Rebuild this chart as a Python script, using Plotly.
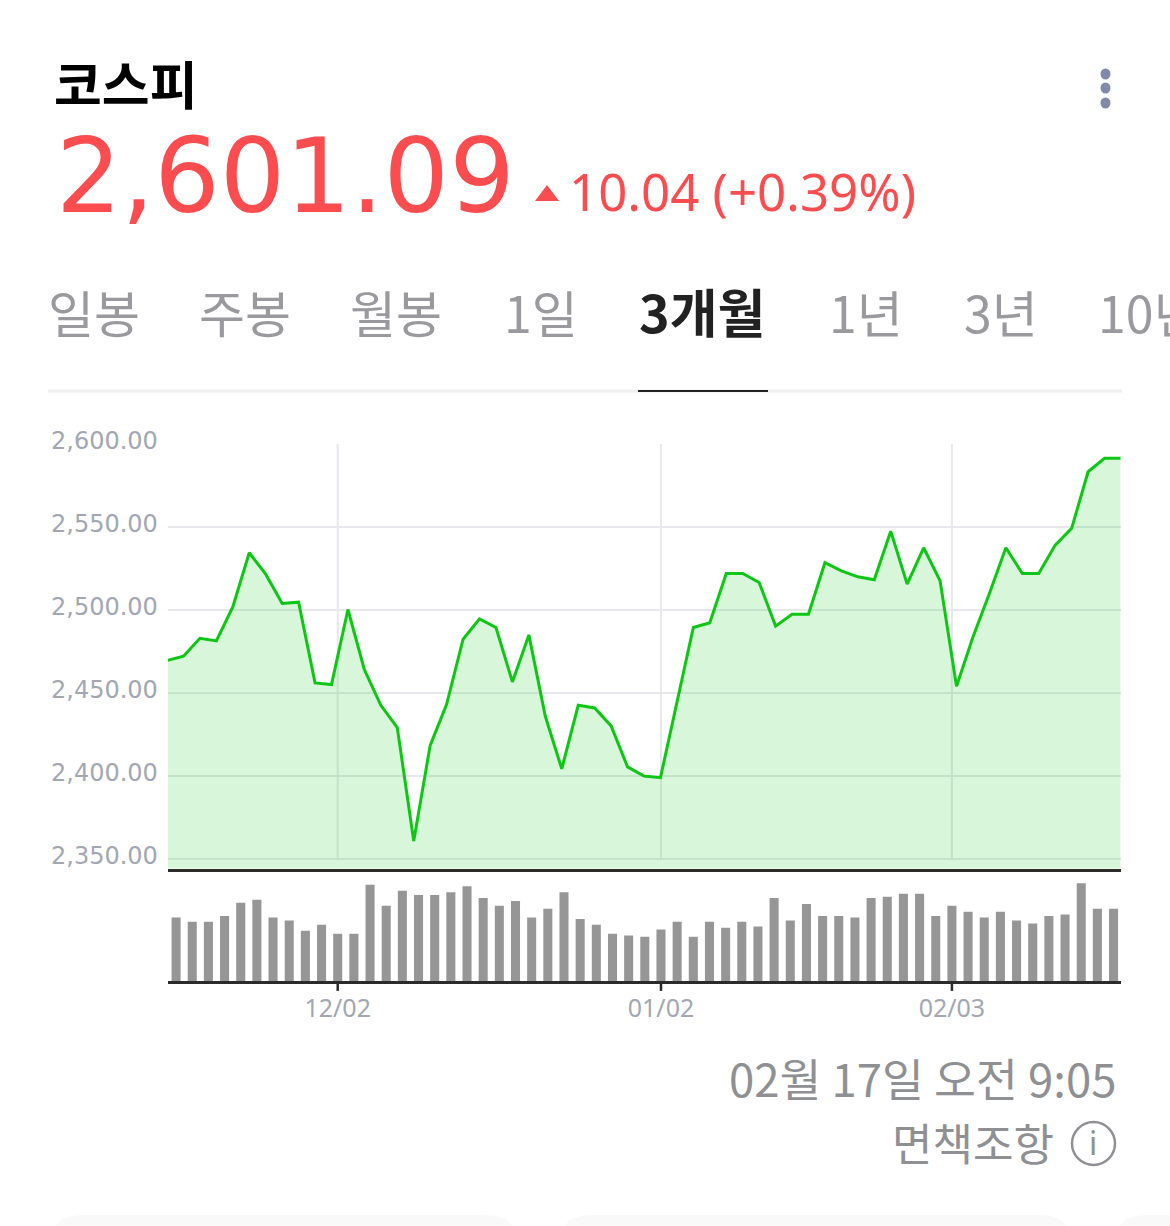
import plotly.graph_objects as go

WIDTH = 1170
HEIGHT = 1226

# index values, one per trading day
closes = [
    2469.6, 2472.2, 2483.0, 2481.4, 2501.9, 2534.5, 2521.6, 2503.9, 2504.7, 2456.1,
    2455.1, 2500.3, 2464.1, 2442.6, 2429.2, 2360.9, 2418.5, 2443.2, 2482.4, 2494.7,
    2489.5, 2456.7, 2485.0, 2436.0, 2404.3, 2442.6, 2441.0, 2430.2, 2405.5, 2400.0,
    2399.0, 2444.7, 2489.5, 2492.3, 2522.0, 2522.0, 2516.6, 2490.3, 2497.5, 2497.5,
    2528.5, 2523.6, 2520.0, 2518.2, 2547.5, 2515.6, 2537.5, 2517.6, 2454.1, 2483.8,
    2510.0, 2537.5, 2522.0, 2522.0, 2539.1, 2549.2, 2583.3, 2591.4, 2591.4,
]
# volume has no scale in the picture, so these are relative heights
volumes = [
    192, 179, 179, 197, 237, 246, 192, 183, 152, 170,
    143, 143, 291, 228, 273, 260, 260, 269, 287, 251,
    228, 242, 192, 219, 269, 188, 170, 143, 138, 134,
    156, 179, 134, 179, 161, 179, 165, 251, 183, 233,
    197, 197, 192, 251, 255, 264, 264, 197, 228, 210,
    192, 210, 183, 174, 197, 201, 296, 219, 219,
]
days = list(range(len(closes)))

price_ticks = [2350, 2400, 2450, 2500, 2550, 2600]
price_labels = ["2,350.00", "2,400.00", "2,450.00", "2,500.00", "2,550.00", "2,600.00"]
date_ticks = [10, 30, 48]
date_labels = ["12/02", "01/02", "02/03"]

tabs = ["일봉", "주봉", "월봉", "1일", "3개월", "1년", "3년", "10년"]
tab_centers = [94, 245, 396, 541, 702, 866, 1001, 1149]
active_tab = "3개월"

KR_FONT = "Noto Sans CJK KR"
RED = "#fb4d4f"
GREEN = "#0ec714"
GRID = "#e6e8ee"
AXIS = "#2b2b2b"
MUTED = "#8f9094"
TICK_TEXT = "#a2a7b3"


def px_x(v):
    return v / WIDTH


def px_y(v):
    return 1 - v / HEIGHT


def label(text, x, y, size, color, anchor="left", family=KR_FONT):
    return dict(
        text=text, x=px_x(x), y=px_y(y), xref="paper", yref="paper",
        xanchor=anchor, yanchor="middle", showarrow=False,
        font=dict(family=family, size=size, color=color),
    )


def card_top(x0, x1):
    bottom, top = px_y(HEIGHT), px_y(1215)
    return (
        f"M {px_x(x0)} {bottom} Q {px_x(x0 + 5)} {top} {px_x(x0 + 30)} {top} "
        f"L {px_x(x1 - 30)} {top} Q {px_x(x1 - 5)} {top} {px_x(x1)} {bottom} Z"
    )


fig = go.Figure()

fig.add_trace(go.Scatter(
    x=days, y=closes, mode="lines", xaxis="x", yaxis="y",
    line=dict(color=GREEN, width=3),
    fill="tozeroy", fillcolor="rgba(14,199,20,0.16)",
    hoverinfo="skip", showlegend=False,
))
fig.add_trace(go.Bar(
    x=days, y=volumes, xaxis="x2", yaxis="y2",
    marker=dict(color="#969696", line_width=0),
    hoverinfo="skip", showlegend=False,
))

annotations = [
    label("<b>코스피</b>", 52, 83, 52, "#000000"),
    label("2,601.09", 54, 176, 103, RED, family="DejaVu Sans"),
    label("10.04 (+0.39%)", 567, 191, 51, RED, family="Noto Sans"),
    label("02월 17일 오전 9:05", 1118, 1077, 45.5, MUTED, anchor="right"),
    label("면책조항", 1056, 1142, 44, MUTED, anchor="right"),
    label("i", 1093, 1142, 32, MUTED, anchor="center", family="Noto Sans"),
]
for name, center in zip(tabs, tab_centers):
    on = name == active_tab
    annotations.append(label(
        f"<b>{name}</b>" if on else name, center, 311, 52 if on else 50,
        "#222222" if on else "#9a9a9e", anchor="center",
    ))
for tick, text in zip(price_ticks, price_labels):
    annotations.append(dict(
        text=text, x=0, xref="x domain", y=tick, yref="y", xshift=-8, yshift=3,
        xanchor="right", yanchor="middle", showarrow=False,
        font=dict(family="DejaVu Sans", size=24, color=TICK_TEXT),
    ))

shapes = [
    # tab underline and active marker
    dict(type="line", xref="paper", yref="paper", x0=px_x(48), x1=px_x(1122),
         y0=px_y(391), y1=px_y(391), line=dict(color="#f0f0f0", width=3)),
    dict(type="line", xref="paper", yref="paper", x0=px_x(638), x1=px_x(768),
         y0=px_y(391), y1=px_y(391), line=dict(color="#222222", width=2)),
    # price arrow
    dict(type="path", xref="paper", yref="paper", fillcolor=RED, line_width=0,
         path=f"M {px_x(535)} {px_y(201)} L {px_x(559)} {px_y(201)} L {px_x(547)} {px_y(185)} Z"),
    # info icon
    dict(type="circle", xref="paper", yref="paper", x0=px_x(1072), x1=px_x(1115),
         y0=px_y(1165), y1=px_y(1122), line=dict(color=MUTED, width=2.5)),
]
# menu dots
for cy in [74, 88, 103]:
    shapes.append(dict(type="circle", xref="paper", yref="paper", fillcolor="#7f8ba8", line_width=0,
                       x0=px_x(1100.5), x1=px_x(1110.5), y0=px_y(cy + 5.5), y1=px_y(cy - 5.5)))
# edges of the cards below the fold
for x0, x1 in [(56, 512), (565, 1066), (1120, 1230)]:
    shapes.append(dict(type="path", xref="paper", yref="paper", fillcolor="#f9f9f9", line_width=0,
                       path=card_top(x0, x1)))
# vertical grid stops at the 2,350 line, so it can't be plain axis grid
for tick in date_ticks:
    shapes.append(dict(type="line", layer="below", xref="x2", yref="y", x0=tick, x1=tick,
                       y0=price_ticks[0], y1=price_ticks[-1], line=dict(color=GRID, width=2)))
    shapes.append(dict(type="line", xref="x2", yref="y2 domain", x0=tick, x1=tick,
                       y0=0, y1=-0.09, line=dict(color=AXIS, width=2.5)))

fig.update_layout(
    width=WIDTH, height=HEIGHT,
    margin=dict(l=0, r=0, t=0, b=0),
    paper_bgcolor="white", plot_bgcolor="white",
    bargap=0.44,
    annotations=annotations, shapes=shapes,
    xaxis=dict(
        domain=[px_x(168), px_x(1120.5)], range=[0.06, 57.97], anchor="y",
        showgrid=False, showticklabels=False, zeroline=False, ticks="",
        showline=True, linecolor=AXIS, linewidth=3,
    ),
    yaxis=dict(
        domain=[px_y(868.5), px_y(444)], range=[2344.3, 2600], anchor="x",
        tickvals=price_ticks, showticklabels=False, ticks="",
        showgrid=True, gridcolor=GRID, gridwidth=2, zeroline=False, showline=False,
    ),
    xaxis2=dict(
        domain=[px_x(168), px_x(1120.5)], range=[-0.5, 58.43], anchor="y2",
        tickvals=date_ticks, ticktext=date_labels, ticks="", ticklabelstandoff=3,
        tickfont=dict(family="Noto Sans", size=25, color=TICK_TEXT),
        showgrid=False, zeroline=False,
        showline=True, linecolor=AXIS, linewidth=3,
    ),
    yaxis2=dict(
        domain=[px_y(981), px_y(871)], range=[0, 333], anchor="x2",
        showgrid=False, showticklabels=False, zeroline=False, ticks="",
    ),
)

fig.write_html(
    "out.html",
    config={"displayModeBar": False},
    post_script="document.body.style.margin='0';document.body.style.overflow='hidden';",
)
